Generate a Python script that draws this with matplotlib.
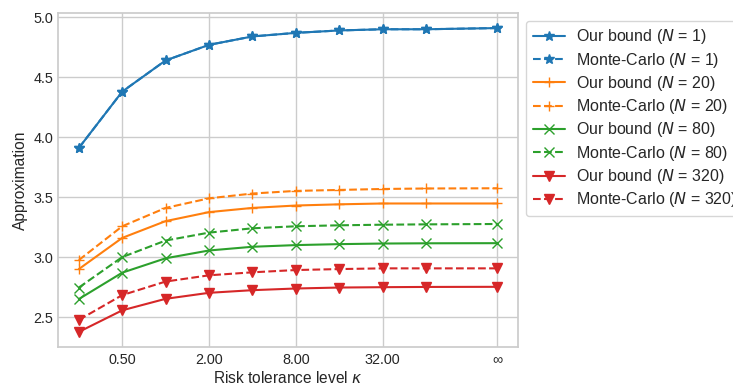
import numpy as np
import matplotlib
matplotlib.use("Agg")
import matplotlib.pyplot as plt
import seaborn as sns

sns.set_theme(style="whitegrid")
plt.rcParams['font.family'] = ['Liberation Sans', 'DejaVu Sans']

kappa = [0.25, 0.5, 1, 2, 4, 8, 16, 32, 64, 200]  # last = infinity position
tick_vals = [0.5, 2, 8, 32, 200]
tick_labels = ["0.50", "2.00", "8.00", "32.00", "\u221e"]

bound_N1 = [3.91, 4.38, 4.64, 4.77, 4.84, 4.87, 4.89, 4.90, 4.90, 4.91]
mc_N1 = [3.91, 4.38, 4.64, 4.77, 4.84, 4.87, 4.89, 4.90, 4.90, 4.91]
bound_N20 = [2.90, 3.16, 3.30, 3.375, 3.41, 3.43, 3.44, 3.447, 3.447, 3.447]
mc_N20 = [2.975, 3.257, 3.41, 3.49, 3.53, 3.552, 3.56, 3.568, 3.572, 3.574]
bound_N80 = [2.65, 2.87, 2.99, 3.055, 3.086, 3.10, 3.108, 3.113, 3.115, 3.116]
mc_N80 = [2.746, 3.0, 3.138, 3.204, 3.24, 3.257, 3.265, 3.27, 3.273, 3.276]
bound_N320 = [2.376, 2.556, 2.652, 2.702, 2.724, 2.738, 2.746, 2.749, 2.751, 2.752]
mc_N320 = [2.476, 2.683, 2.796, 2.848, 2.873, 2.892, 2.90, 2.906, 2.906, 2.906]

Ns = [1, 20, 80, 320]
bounds = [bound_N1, bound_N20, bound_N80, bound_N320]
mcs = [mc_N1, mc_N20, mc_N80, mc_N320]
markers = ['*', '+', 'x', 'v']
colors = ['#1f77b4', '#ff7f0e', '#2ca02c', '#d62728']

fig = plt.figure(figsize=(7.33, 3.9), dpi=100)
ax = fig.add_axes([0.079, 0.110, 0.628, 0.857])

for N, b, m, mk, c in zip(Ns, bounds, mcs, markers, colors):
    ax.plot(kappa, b, '-', marker=mk, color=c, lw=1.5, ms=7,
            label=f"Our bound ($N$ = {N})")
    ax.plot(kappa, m, '--', marker=mk, color=c, lw=1.5, ms=7,
            label=f"Monte-Carlo ($N$ = {N})")

ax.set_xscale('log', base=2)
ax.set_xticks(tick_vals)
ax.set_xticklabels(tick_labels)
ax.xaxis.set_minor_locator(matplotlib.ticker.NullLocator())
ax.tick_params(labelsize=10.4, length=0)
ax.tick_params(axis='x', pad=4.5)
ax.tick_params(axis='y', pad=3.5)
ax.set_xlabel(r"Risk tolerance level $\kappa$", fontsize=11.2, labelpad=2)
ax.set_ylabel("Approximation", fontsize=11.2, labelpad=3.5)
ax.legend(loc='upper left', bbox_to_anchor=(1, 1), fontsize=11.5,
          labelspacing=0.27, handlelength=2.0, handletextpad=0.7,
          borderaxespad=0.5)

fig.savefig("out.png", dpi=100)
